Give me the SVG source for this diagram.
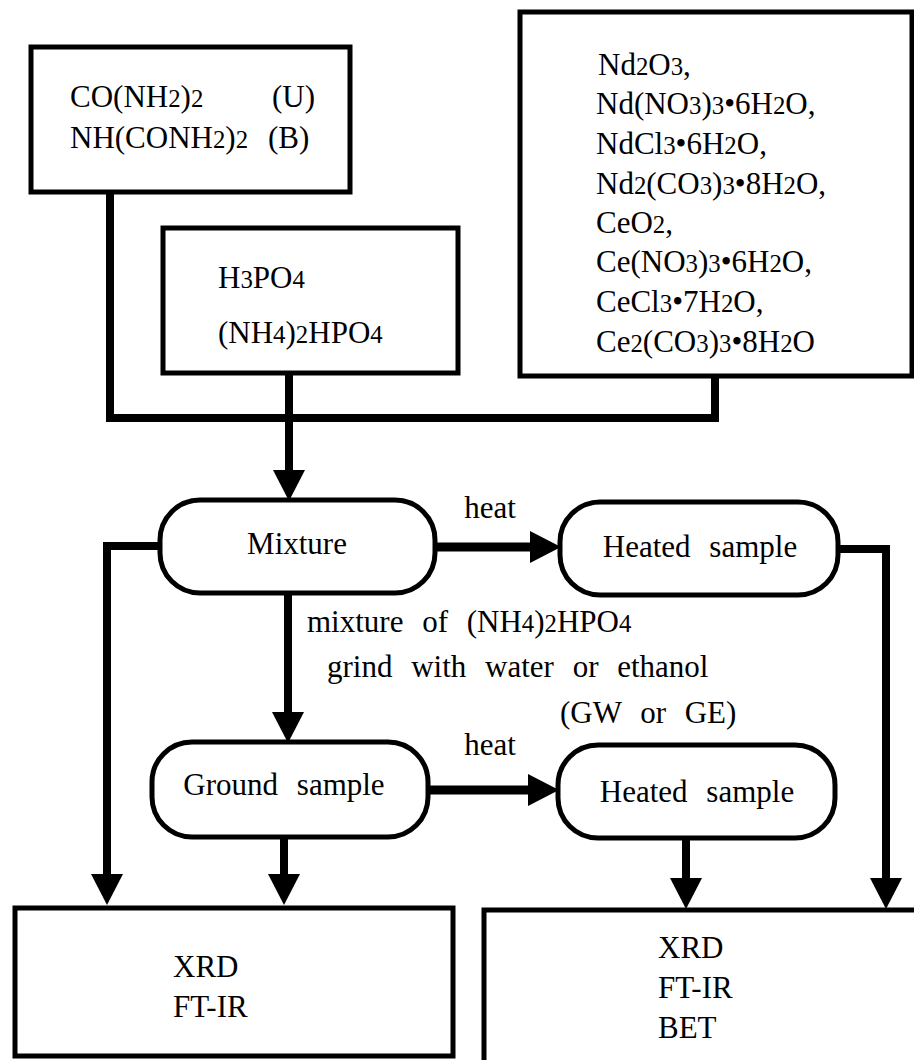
<svg xmlns="http://www.w3.org/2000/svg" width="914" height="1060" viewBox="0 0 914 1060">
<style>
  text { font-family: "Liberation Serif", "Times New Roman", serif; font-size: 31px; fill: #000; }
  .s { font-size: 0.8em; }
  .ws { word-spacing: 11px; }
  .mid { text-anchor: middle; }
  .box { fill: #fff; stroke: #000; stroke-width: 5; }
  .pill { fill: #fff; stroke: #000; stroke-width: 5; }
  .conn { fill: none; stroke: #000; stroke-width: 8; stroke-linejoin: miter; }
  .connh { fill: none; stroke: #000; stroke-width: 9; stroke-linejoin: miter; }
</style>
<defs>
  <marker id="arr" markerUnits="userSpaceOnUse" viewBox="0 0 32 32" markerWidth="32" markerHeight="32" refX="0" refY="16" orient="auto">
    <path d="M0,0 L31,16 L0,32 Z" fill="#000"/>
  </marker>
</defs>
<rect width="914" height="1060" fill="#fff"/>

<g id="connectors">
  <path class="conn" d="M110,192 V418 H715 V376"/>
  <path class="conn" d="M289,373 V470" marker-end="url(#arr)"/>
  <path class="conn" d="M160,546 H107 V874" marker-end="url(#arr)"/>
  <path class="connh" d="M435,547 H530" marker-end="url(#arr)"/>
  <path class="conn" d="M838,549 H886 V878" marker-end="url(#arr)"/>
  <path class="conn" d="M288,593 V712" marker-end="url(#arr)"/>
  <path class="connh" d="M428,790 H528" marker-end="url(#arr)"/>
  <path class="conn" d="M284,837 V874" marker-end="url(#arr)"/>
  <path class="conn" d="M686,838 V878" marker-end="url(#arr)"/>
</g>

<g id="urea">
  <rect class="box" x="31" y="47" width="319" height="145"/>
  <text x="70" y="107">CO(NH<tspan class="s">2</tspan>)<tspan class="s">2</tspan></text>
  <text x="272" y="107">(U)</text>
  <text x="70" y="148">NH(CONH<tspan class="s">2</tspan>)<tspan class="s">2</tspan></text>
  <text x="268" y="148">(B)</text>
</g>

<g id="phosphate">
  <rect class="box" x="163" y="228" width="295" height="145"/>
  <text x="218" y="288">H<tspan class="s">3</tspan>PO<tspan class="s">4</tspan></text>
  <text x="218" y="343">(NH<tspan class="s">4</tspan>)<tspan class="s">2</tspan>HPO<tspan class="s">4</tspan></text>
</g>

<g id="rareearth">
  <rect class="box" x="520" y="12" width="392" height="364"/>
  <text x="598" y="75">Nd<tspan class="s">2</tspan>O<tspan class="s">3</tspan>,</text>
  <text x="596" y="114">Nd(NO<tspan class="s">3</tspan>)<tspan class="s">3</tspan>•6H<tspan class="s">2</tspan>O,</text>
  <text x="596" y="154">NdCl<tspan class="s">3</tspan>•6H<tspan class="s">2</tspan>O,</text>
  <text x="596" y="194">Nd<tspan class="s">2</tspan>(CO<tspan class="s">3</tspan>)<tspan class="s">3</tspan>•8H<tspan class="s">2</tspan>O,</text>
  <text x="596" y="233">CeO<tspan class="s">2</tspan>,</text>
  <text x="596" y="272">Ce(NO<tspan class="s">3</tspan>)<tspan class="s">3</tspan>•6H<tspan class="s">2</tspan>O,</text>
  <text x="596" y="312">CeCl<tspan class="s">3</tspan>•7H<tspan class="s">2</tspan>O,</text>
  <text x="596" y="352">Ce<tspan class="s">2</tspan>(CO<tspan class="s">3</tspan>)<tspan class="s">3</tspan>•8H<tspan class="s">2</tspan>O</text>
</g>

<g id="mixture">
  <rect class="pill" x="160" y="500" width="275" height="93" rx="40" ry="40"/>
  <text class="mid" x="297" y="554">Mixture</text>
</g>

<g id="heated1">
  <rect class="pill" x="560" y="502" width="278" height="93" rx="40" ry="40"/>
  <text class="mid ws" x="700" y="557">Heated sample</text>
</g>

<g id="ground">
  <rect class="pill" x="152" y="742" width="276" height="95" rx="40" ry="40"/>
  <text class="mid ws" x="284" y="795">Ground sample</text>
</g>

<g id="heated2">
  <rect class="pill" x="558" y="745" width="277" height="93" rx="40" ry="40"/>
  <text class="mid ws" x="697" y="802">Heated sample</text>
</g>

<g id="labels">
  <text class="mid" x="490" y="518">heat</text>
  <text class="mid" x="490" y="755">heat</text>
  <text class="ws" x="307" y="632">mixture of (NH<tspan class="s">4</tspan>)<tspan class="s">2</tspan>HPO<tspan class="s">4</tspan></text>
  <text class="ws" x="327" y="677">grind with water or ethanol</text>
  <text class="ws" x="560" y="723">(GW or GE)</text>
</g>

<g id="analysis1">
  <rect class="box" x="15" y="908" width="438" height="148"/>
  <text x="173" y="977">XRD</text>
  <text x="173" y="1017">FT-IR</text>
</g>

<g id="analysis2">
  <rect class="box" x="484" y="910" width="440" height="200"/>
  <text x="658" y="958">XRD</text>
  <text x="658" y="998">FT-IR</text>
  <text x="658" y="1038">BET</text>
</g>
</svg>
